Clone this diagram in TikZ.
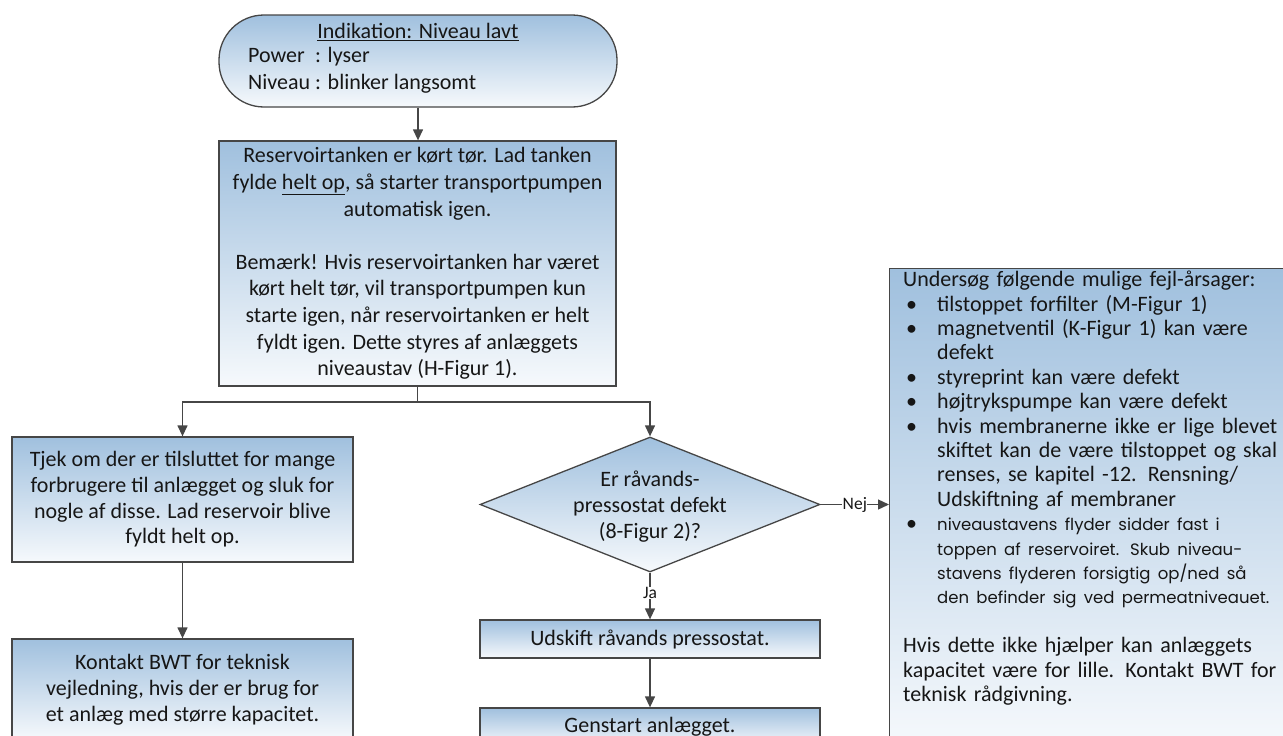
\documentclass[tikz,border=0pt]{standalone}
\usepackage{fontspec}
\setmainfont{Carlito}
\newfontfamily\futfont{Poppins}
\usetikzlibrary{shapes.geometric,arrows.meta,calc}

\definecolor{gtop}{RGB}{160,192,222}
\definecolor{gbot}{RGB}{246,249,252}
\definecolor{edgec}{RGB}{70,70,70}
\definecolor{txtc}{RGB}{22,22,22}

\newcommand\rbul{\makebox[34pt][l]{\hspace{3pt}•}}
\newcommand\rind{\hspace*{34pt}}
\newcommand\rjl[1]{\makebox[335pt][s]{#1}}
\newcommand\rjf[1]{\makebox[369pt][s]{#1}}
\newcommand\futsz{\futfont\fontsize{16.5}{24.4}\selectfont}

\tikzset{
 box/.style={draw=edgec, line width=1.3pt, top color=gtop, bottom color=gbot, inner sep=0pt, text=txtc},
 flow/.style={draw=edgec, line width=1.3pt, -{Triangle[width=10pt,length=11pt]}},
 plain/.style={draw=edgec, line width=1.3pt},
 lbl/.style={font=\fontsize{17.5}{19}\selectfont, fill=white, inner sep=0.5pt, text=txtc},
 body/.style={font=\fontsize{22}{26}\selectfont, text=txtc, align=center}
}

\begin{document}
\begin{tikzpicture}[x=1pt,y=-1pt]
\clip (0,0) rectangle (1283,736);
\fill[white] (0,0) rectangle (1283,736);

% start terminal
\node[box, rounded corners=45pt, minimum width=398pt, minimum height=92pt] (start) at (418,61) {};
\node[body] (starttitle) at (418,32) {\underline{Indikation: Niveau lavt}};
\node[body, anchor=west, inner sep=0pt, font=\fontsize{22}{26.8}\selectfont] (startinfo) at (248,71)
  {\begin{tabular}{@{}l@{ }l@{}}Power & : lyser\\Niveau & : blinker langsomt\end{tabular}};

% main box
\node[box, body, font=\fontsize{22}{26.6}\selectfont, minimum width=397pt, minimum height=245pt] (tank) at (417.5,263.5)
 {Reservoirtanken er kørt tør. Lad tanken\\
  fylde \underline{helt op}, så starter transportpumpen\\
  automatisk igen.\\[26.6pt]
  Bemærk! Hvis reservoirtanken har været\\
  kørt helt tør, vil transportpumpen kun\\
  starte igen, når reservoirtanken er helt\\
  fyldt igen. Dette styres af anlæggets\\
  niveaustav (H-Figur 1).};

% left branch
\node[box, body, font=\fontsize{22}{25.7}\selectfont, minimum width=341pt, minimum height=125pt] (left1) at (182.5,499.5)
 {Tjek om der er tilsluttet for mange\\
  forbrugere til anlægget og sluk for\\
  nogle af disse. Lad reservoir blive\\
  fyldt helt op.};
\node[box, body, font=\fontsize{22}{26}\selectfont, minimum width=341pt, minimum height=101pt] (left2) at (182.5,689.5)
 {Kontakt BWT for teknisk\\
  vejledning, hvis der er brug for\\
  et anlæg med større kapacitet.};

% decision
\node[diamond, draw=edgec, line width=1.3pt, top color=gtop, bottom color=gbot,
      minimum width=340pt, minimum height=135pt, inner sep=0pt] (dia) at (650,504.5) {};
\node[body] (diatext) at (650,506.5) {Er råvands-\\pressostat defekt\\(8-Figur 2)?};

\node[box, body, minimum width=340pt, minimum height=38pt] (udskift) at (650,639) {Udskift råvands pressostat.};
\node[box, body, minimum width=340pt, minimum height=38pt] (genstart) at (650,727) {Genstart anlægget.};

% right box
\node[box, anchor=north west, minimum width=420pt, minimum height=480pt] (rbox) at (889,268) {};
\node[anchor=north west, inner sep=0pt, text width=369pt, align=left,
      font=\fontsize{22}{24.4}\selectfont, text=txtc] (rtext) at (903,271)
 {Undersøg følgende mulige fejl-årsager:\\
  \rbul tilstoppet forfilter (M-Figur 1)\\
  \rbul\rjl{magnetventil (K-Figur 1) kan være}\\
  \rind defekt\\
  \rbul styreprint kan være defekt\\
  \rbul højtrykspumpe kan være defekt\\
  \rbul\rjl{hvis membranerne ikke er lige blevet}\\
  \rind\rjl{skiftet kan de være tilstoppet og skal}\\
  \rind\rjl{renses, se kapitel -12. Rensning/}\\
  \rind Udskiftning af membraner\\
  \rbul{\futsz\rjl{niveaustavens flyder sidder fast i}}\\
  \rind{\futsz\rjl{toppen af reservoiret. Skub niveau-}}\\
  \rind{\futsz\rjl{stavens flyderen forsigtig op/ned så}}\\
  \rind{\futsz den befinder sig ved permeatniveauet.}\\[24.4pt]
  \rjf{Hvis dette ikke hjælper kan anlæggets}\\
  \rjf{kapacitet være for lille. Kontakt BWT for}\\
  teknisk rådgivning.};

% connectors
\draw[flow] (start.south) -- (start.south |- tank.north);
\coordinate (split) at (417.5,402);
\draw[plain] (tank.south) -- (split);
\draw[flow] (split) -| (left1.north);
\draw[flow] (split) -| (dia.north);
\draw[flow] (left1.south) -- (left2.north);
\draw[flow] (dia.south) -- node[lbl, pos=0.44] (ja) {Ja} (udskift.north);
\draw[flow] (udskift.south) -- (genstart.north);
\draw[flow] (dia.east) -- node[lbl, pos=0.5] (nej) {Nej} (dia.east -| rbox.west);
\end{tikzpicture}
\end{document}
